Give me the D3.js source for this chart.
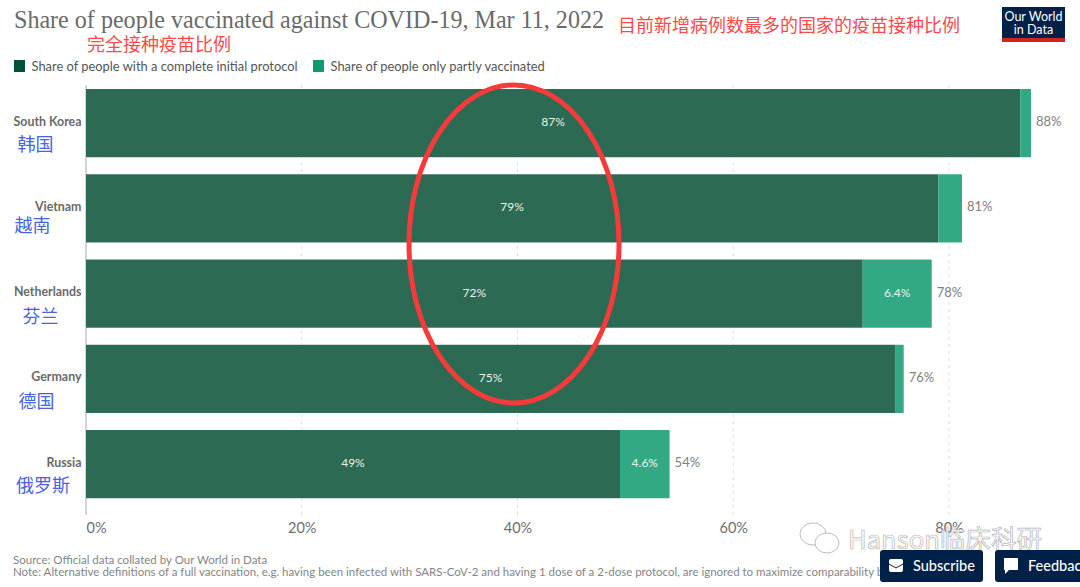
<!DOCTYPE html>
<html>
<head>
<meta charset="utf-8">
<script src="https://cdn.jsdelivr.net/npm/d3@7"></script>
<style>
  html, body { margin: 0; padding: 0; background: #fff; overflow: hidden; }
  text { font-family: Lato, sans-serif; }
  .cjk { font-family: "Noto Sans CJK SC", sans-serif; }
</style>
</head>
<body>
<script>
var countries = ["South Korea", "Vietnam", "Netherlands", "Germany", "Russia"];
var countriesZh = ["韩国", "越南", "芬兰", "德国", "俄罗斯"];
var fullShare = [86.6, 79.0, 72.0, 75.0, 49.5];
var partShare = [1.0, 2.2, 6.4, 0.8, 4.6];
var fullLabels = ["87%", "79%", "72%", "75%", "49%"];
var partLabels = ["", "", "6.4%", "", "4.6%"];
var totalLabels = ["88%", "81%", "78%", "76%", "54%"];
var xTicks = [0, 20, 40, 60, 80];
var legendLabels = ["Share of people with a complete initial protocol", "Share of people only partly vaccinated"];

var width = 1080, height = 587;
var darkBar = "#2c6a53", lightBar = "#32a984";

var svg = d3.select("body").append("svg")
  .attr("width", width)
  .attr("height", height)
  .style("display", "block");

// scales
var x = d3.scaleLinear().domain([0, 80]).range([86, 949]);
var y = d3.scaleBand().domain(countries).range([80.5, 506.75]).paddingInner(0.2).paddingOuter(0.1);

// grid
var grid = svg.append("g");
grid.selectAll("line").data(xTicks.slice(1)).enter().append("line")
  .attr("x1", function(d) { return x(d); })
  .attr("x2", function(d) { return x(d); })
  .attr("y1", 85)
  .attr("y2", 515)
  .attr("stroke", "#dddddd")
  .attr("stroke-dasharray", "3,4");
grid.append("line")
  .attr("x1", x(0)).attr("x2", x(0)).attr("y1", 85).attr("y2", 515)
  .attr("stroke", "#a8a8a8");

// x axis, first label sits right of its tick
var xAxis = d3.axisBottom(x).tickValues(xTicks).tickSize(0).tickFormat(function(d) { return d + "%"; });
var axisG = svg.append("g").attr("transform", "translate(0,523)").call(xAxis);
axisG.select(".domain").remove();
axisG.selectAll("text")
  .attr("y", 0).attr("dy", "0.71em")
  .style("font-family", "Lato, sans-serif")
  .style("font-size", "14.5px")
  .attr("fill", "#6e6e6e")
  .attr("dx", function(d) { return d === 0 ? 10 : 0; });

// bars
var rows = svg.selectAll(".row").data(countries).enter().append("g").attr("class", "row");

rows.append("rect")
  .attr("x", x(0))
  .attr("y", function(d) { return y(d); })
  .attr("width", function(d, i) { return x(fullShare[i]) - x(0); })
  .attr("height", y.bandwidth())
  .attr("fill", darkBar);

rows.append("rect")
  .attr("x", function(d, i) { return x(fullShare[i]); })
  .attr("y", function(d) { return y(d); })
  .attr("width", function(d, i) { return x(partShare[i]) - x(0); })
  .attr("height", y.bandwidth())
  .attr("fill", lightBar);

rows.append("text")
  .attr("x", function(d, i) { return x(fullShare[i] / 2); })
  .attr("y", function(d) { return y(d) + y.bandwidth() / 2 + 3; })
  .attr("text-anchor", "middle")
  .attr("font-size", 12)
  .attr("fill", "#e8f2ee")
  .text(function(d, i) { return fullLabels[i]; });

rows.append("text")
  .attr("x", function(d, i) { return x(fullShare[i] + partShare[i] / 2); })
  .attr("y", function(d) { return y(d) + y.bandwidth() / 2 + 3; })
  .attr("text-anchor", "middle")
  .attr("font-size", 12)
  .attr("fill", "#e8f7f1")
  .text(function(d, i) { return partLabels[i]; });

rows.append("text")
  .attr("x", function(d, i) { return x(fullShare[i] + partShare[i]) + 5; })
  .attr("y", function(d) { return y(d) + y.bandwidth() / 2 + 3; })
  .attr("font-size", 13)
  .attr("fill", "#808080")
  .text(function(d, i) { return totalLabels[i]; });

rows.append("text")
  .attr("x", 81.5)
  .attr("y", function(d) { return y(d) + y.bandwidth() / 2 + 2.5; })
  .attr("text-anchor", "end")
  .attr("font-size", 12.4)
  .attr("font-weight", 700)
  .attr("fill", "#6a6a6a")
  .text(function(d) { return d; });

// blue handwritten names
var zhX = [35.5, 32.5, 40.5, 36.5, 43];
var zhY = [151, 232, 323, 408, 492];
svg.selectAll(".zh").data(countriesZh).enter().append("text")
  .attr("class", "zh cjk")
  .attr("x", function(d, i) { return zhX[i]; })
  .attr("y", function(d, i) { return zhY[i]; })
  .attr("text-anchor", "middle")
  .attr("font-size", 18)
  .attr("fill", "#4a63dd")
  .text(function(d) { return d; });

// title
svg.append("text")
  .attr("x", 14).attr("y", 28)
  .attr("textLength", 590)
  .attr("lengthAdjust", "spacingAndGlyphs")
  .style("font-family", "'Liberation Serif', serif")
  .attr("font-size", 25)
  .attr("fill", "#6a6a6a")
  .text("Share of people vaccinated against COVID-19, Mar 11, 2022");

// red notes
svg.append("text").attr("class", "cjk")
  .attr("x", 87).attr("y", 51)
  .attr("font-size", 18)
  .attr("fill", "#fa4a4a")
  .text("完全接种疫苗比例");
svg.append("text").attr("class", "cjk")
  .attr("x", 618).attr("y", 32)
  .attr("font-size", 18)
  .attr("fill", "#fa4a4a")
  .text("目前新增病例数最多的国家的疫苗接种比例");

// legend
var legendX = [14, 313];
var legendColors = ["#00513a", "#0f9a70"];
var legend = svg.selectAll(".lg").data(legendLabels).enter().append("g").attr("class", "lg");
legend.append("rect")
  .attr("x", function(d, i) { return legendX[i]; })
  .attr("y", 60)
  .attr("width", 11).attr("height", 12)
  .attr("fill", function(d, i) { return legendColors[i]; });
legend.append("text")
  .attr("x", function(d, i) { return legendX[i] + 17.5; })
  .attr("y", 71)
  .attr("font-size", 12.9)
  .attr("fill", "#555555")
  .text(function(d) { return d; });

// logo
var logo = svg.append("g");
logo.append("rect").attr("x", 1002).attr("y", 7).attr("width", 63).attr("height", 35).attr("fill", "#002147");
logo.append("rect").attr("x", 1002).attr("y", 38).attr("width", 63).attr("height", 4).attr("fill", "#ce261e");
logo.append("text").attr("x", 1033.5).attr("y", 21).attr("text-anchor", "middle").attr("font-size", 12.5).attr("fill", "#fff").text("Our World");
logo.append("text").attr("x", 1033.5).attr("y", 34).attr("text-anchor", "middle").attr("font-size", 12.5).attr("fill", "#fff").text("in Data");

// footer
svg.append("text").attr("x", 13).attr("y", 564).attr("font-size", 11.5).attr("fill", "#858585")
  .text("Source: Official data collated by Our World in Data");
svg.append("text").attr("x", 13).attr("y", 576).attr("font-size", 11.5).attr("fill", "#858585")
  .text("Note: Alternative definitions of a full vaccination, e.g. having been infected with SARS-CoV-2 and having 1 dose of a 2-dose protocol, are ignored to maximize comparability between countries.");

// red hand drawn ellipse
svg.append("ellipse")
  .attr("cx", 514).attr("cy", 244)
  .attr("rx", 105).attr("ry", 159)
  .attr("fill", "none")
  .attr("stroke", "#f93a3a")
  .attr("stroke-width", 5);

// watermark
var wm = svg.append("g");
wm.append("ellipse").attr("cx", 813).attr("cy", 534).attr("rx", 13).attr("ry", 11).attr("fill", "#fff").attr("stroke", "#bdbdbd");
wm.append("ellipse").attr("cx", 827).attr("cy", 543).attr("rx", 12).attr("ry", 10).attr("fill", "#fff").attr("stroke", "#bdbdbd");
wm.append("text").attr("x", 848).attr("y", 549)
  .attr("font-size", 25.6)
  .attr("fill", "#ffffff")
  .attr("stroke", "#b5b5b5")
  .attr("stroke-width", 0.7)
  .style("font-family", "'Noto Sans CJK SC', sans-serif")
  .text("Hanson临床科研");

// buttons
var buttons = svg.append("g");
buttons.append("rect").attr("x", 880).attr("y", 550).attr("width", 103).attr("height", 32).attr("rx", 3).attr("fill", "#002147");
buttons.append("rect").attr("x", 995).attr("y", 550).attr("width", 100).attr("height", 32).attr("rx", 3).attr("fill", "#002147");
buttons.append("rect").attr("x", 889).attr("y", 559).attr("width", 14).attr("height", 13).attr("rx", 2).attr("fill", "#fff");
buttons.append("path").attr("d", "M889 564l7 4l7 -4").attr("fill", "none").attr("stroke", "#002147");
buttons.append("path").attr("d", "M1004 558h14v12h-9l-4 4v-4h-1z").attr("fill", "#fff");
buttons.append("text").attr("x", 913).attr("y", 571).attr("font-size", 14.5).attr("font-weight", 500).attr("fill", "#fff").text("Subscribe");
buttons.append("text").attr("x", 1028).attr("y", 571).attr("font-size", 14.5).attr("font-weight", 500).attr("fill", "#fff").text("Feedback");
</script>
</body>
</html>
